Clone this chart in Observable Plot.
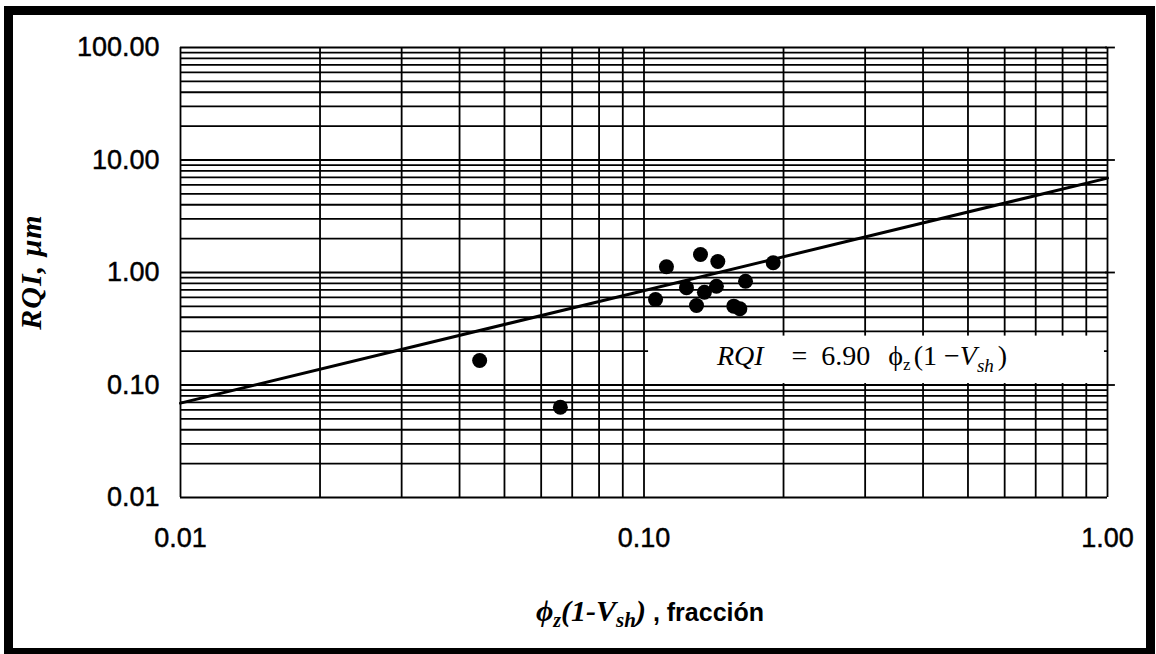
<!DOCTYPE html>
<html><head><meta charset="utf-8">
<script src="https://cdn.jsdelivr.net/npm/d3@7"></script>
<script src="https://cdn.jsdelivr.net/npm/@observablehq/plot@0.6"></script>
<style>
html,body{margin:0;padding:0;background:#fff;}
#wrap{position:relative;width:1156px;height:654px;overflow:hidden;background:#fff;}
#chart{position:absolute;left:0;top:0;}
#frame{position:absolute;left:4px;top:6px;width:1151px;height:651px;box-sizing:border-box;border:9px solid #000;pointer-events:none;}
#chart svg g[aria-label$="tick label"] text{stroke:#000;stroke-width:0.45px;}
</style>
</head><body>
<div id="wrap"><div id="chart"></div><div id="frame"></div></div>
<script>
// ---- data ----
const xTicks = [0.01, 0.1, 1];
const yTicks = [0.01, 0.1, 1, 10, 100];
const xGrid = [0.01,0.02,0.03,0.04,0.05,0.06,0.07,0.08,0.09,
               0.1,0.2,0.3,0.4,0.5,0.6,0.7,0.8,0.9,1];
const yGrid = [0.01,0.02,0.03,0.04,0.05,0.06,0.07,0.08,0.09,
               0.1,0.2,0.3,0.4,0.5,0.6,0.7,0.8,0.9,
               1,2,3,4,5,6,7,8,9,
               10,20,30,40,50,60,70,80,90,100];
// measured points: phi_z(1-Vsh) vs RQI
const phiVsh = [0.0442, 0.066, 0.1059, 0.1118, 0.1235, 0.1298, 0.1324, 0.135, 0.1433, 0.1443, 0.1562, 0.161, 0.1656, 0.19];
const rqi    = [0.165, 0.0635, 0.575, 1.124, 0.731, 0.509, 1.445, 0.668, 0.755, 1.252, 0.502, 0.476, 0.837, 1.22];
// fitted line RQI = 6.90 * phi_z(1-Vsh), end points
const fitX = [0.01, 1];
const fitY = [0.069, 6.9];
// white label box behind the equation (data units)
const boxX = [0.1023, 0.985];
const boxY = [0.103, 0.272];
// equation anchor (data units)
const eqAt = [0.144, 0.150];

const pts = phiVsh.map((x, i) => ({x, y: rqi[i]}));
const fit = fitX.map((x, i) => ({x, y: fitY[i]}));
const box = [{x1: boxX[0], x2: boxX[1], y1: boxY[0], y2: boxY[1]}];
const fmt = d => d.toFixed(2);

const plot = Plot.plot({
  width: 1156, height: 654,
  marginLeft: 180, marginRight: 49, marginTop: 47, marginBottom: 157,
  style: {fontFamily: '"Liberation Sans", Arial, sans-serif', fontSize: "27px", color: "#000", background: "transparent", overflow: "visible"},
  x: {type: "log", domain: [0.01, 1], ticks: xTicks, tickFormat: fmt, tickSize: 0, tickPadding: 30, label: null},
  y: {type: "log", domain: [0.01, 100], ticks: yTicks, tickFormat: fmt, tickSize: 0, tickPadding: 21, label: null},
  marks: [
    Plot.ruleX(xGrid, {stroke: "#000", strokeWidth: 1.8}),
    Plot.ruleY(yGrid, {stroke: "#000", strokeWidth: 1.8}),
    Plot.rect(box, {x1: "x1", x2: "x2", y1: "y1", y2: "y2", fill: "#fff"}),
    Plot.ruleY(yTicks.slice(1), {x1: 0.99, x2: 1.04, stroke: "#000", strokeWidth: 1.8}),
    Plot.line(fit, {x: "x", y: "y", stroke: "#000", strokeWidth: 3}),
    Plot.dot(pts, {x: "x", y: "y", r: 7.5, fill: "#000", stroke: "none"})
  ]
});
document.getElementById("chart").appendChild(plot);

function scaleFn(name, fallbackDomain, fallbackRange) {
  const s = plot.scale(name);
  if (s && typeof s.apply === "function") return v => s.apply(v);
  return d3.scaleLog(fallbackDomain, fallbackRange);
}
const sx = scaleFn("x", [0.01, 1], [180, 1107]);
const sy = scaleFn("y", [0.01, 100], [497, 47]);

const svg = d3.select(plot);
const serif = '"Liberation Serif", "Times New Roman", serif';

// equation
const eq = svg.append("text")
  .attr("x", sx(eqAt[0])).attr("y", sy(eqAt[1]))
  .attr("text-anchor", "start")
  .attr("font-family", serif).attr("font-size", 28).attr("fill", "#000");
eq.append("tspan").attr("font-style", "italic").text("RQI");
eq.append("tspan").attr("dx", 28).text("=");
eq.append("tspan").attr("dx", 14).text("6.90");
eq.append("tspan").attr("dx", 18).text("ϕ");
eq.append("tspan").attr("font-size", 17).attr("dy", 5).text("z");
eq.append("tspan").attr("dy", -5).attr("dx", 3).text("(1 −");
eq.append("tspan").attr("font-style", "italic").text("V");
eq.append("tspan").attr("font-style", "italic").attr("font-size", 19).attr("dy", 7).text("sh");
eq.append("tspan").attr("dy", -7).attr("dx", 4).text(")");

// y-axis title
svg.append("text")
  .attr("transform", "translate(41,272) rotate(-90)")
  .attr("text-anchor", "middle")
  .attr("font-family", serif).attr("font-size", 30)
  .attr("font-weight", "bold").attr("font-style", "italic")
  .attr("letter-spacing", 1)
  .attr("fill", "#000")
  .text("RQI, μm");

// x-axis title
const xt = svg.append("text")
  .attr("x", 650).attr("y", 621)
  .attr("text-anchor", "middle")
  .attr("font-family", serif).attr("font-size", 30)
  .attr("font-weight", "bold").attr("font-style", "italic")
  .attr("fill", "#000");
xt.append("tspan").text("ϕ");
xt.append("tspan").attr("font-size", 20).attr("dy", 6).text("z");
xt.append("tspan").attr("dy", -6).text("(1-V");
xt.append("tspan").attr("font-size", 21).attr("dy", 6).text("sh");
xt.append("tspan").attr("dy", -6).text(")");
xt.append("tspan").attr("font-family", '"Liberation Sans", Arial, sans-serif')
  .attr("font-style", "normal").attr("font-size", 25).text(" , fracción");
</script>
</body></html>
